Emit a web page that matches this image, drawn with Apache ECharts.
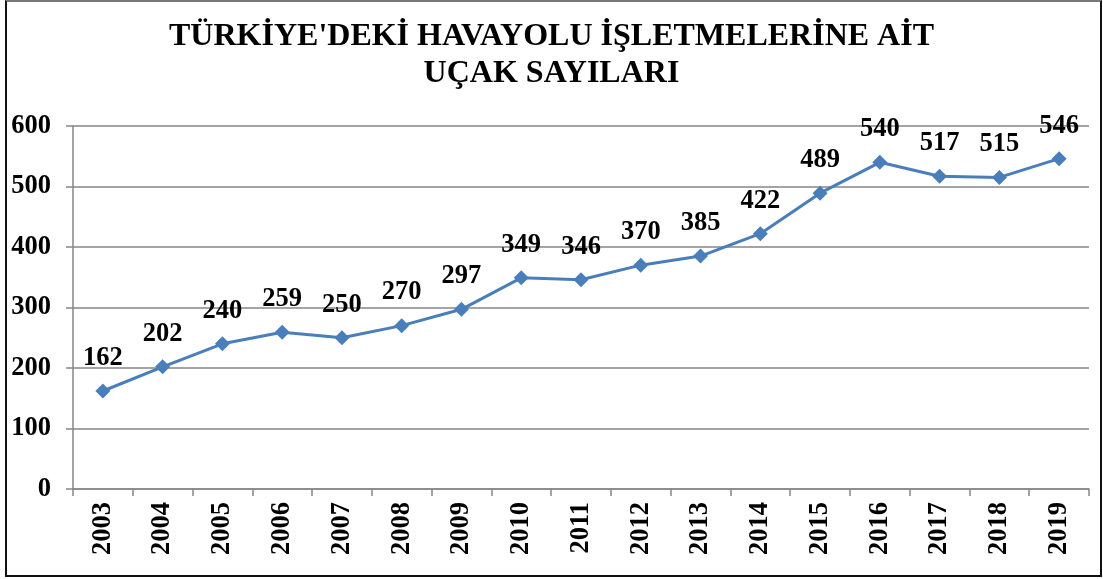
<!DOCTYPE html>
<html>
<head>
<meta charset="utf-8">
<script src="https://cdn.jsdelivr.net/npm/echarts@6/dist/echarts.min.js"></script>
<style>
  html, body { margin: 0; padding: 0; background: #fff; }
  #frame {
    position: absolute; left: 5px; top: 0px; width: 1093px; height: 573px;
    border: 2px solid #111; border-top-color: #777; box-sizing: content-box;
  }
  #main { position: absolute; left: 0; top: 0; width: 1103px; height: 579px; }
</style>
</head>
<body>
<div id="frame"></div>
<div id="main"></div>
<script>
// Yillar ve ucak sayilari
var years = ['2003', '2004', '2005', '2006', '2007', '2008', '2009', '2010', '2011',
             '2012', '2013', '2014', '2015', '2016', '2017', '2018', '2019'];
var aircraft = [162, 202, 240, 259, 250, 270, 297, 349, 346, 370, 385, 422, 489, 540, 517, 515, 546];
var yTicks = [0, 100, 200, 300, 400, 500, 600];

var serif = '"Liberation Serif", "DejaVu Serif", serif';

var myChart = echarts.init(document.getElementById('main'));

var option = {
    animation: false,
    title: {
        text: "TÜRKİYE'DEKİ HAVAYOLU İŞLETMELERİNE AİT\nUÇAK SAYILARI",
        left: 'center',
        top: 13,
        textStyle: {
            fontFamily: serif,
            fontWeight: 'bold',
            fontSize: 32,
            lineHeight: 37,
            color: '#000'
        }
    },
    grid: {
        left: 73,
        right: 14,
        top: 126,
        bottom: 90
    },
    xAxis: {
        type: 'category',
        data: years,
        boundaryGap: true,
        axisLine: { lineStyle: { color: '#868686', width: 1.5 } },
        axisTick: { show: true, length: 7, lineStyle: { color: '#868686', width: 1.5 } },
        axisLabel: {
            rotate: 90,
            margin: 13,
            fontFamily: serif,
            fontWeight: 'bold',
            fontSize: 26.5,
            color: '#000'
        }
    },
    yAxis: {
        type: 'value',
        min: yTicks[0],
        max: yTicks[yTicks.length - 1],
        interval: 100,
        axisLine: { show: true, lineStyle: { color: '#868686', width: 1.5 } },
        axisTick: { show: true, length: 7, lineStyle: { color: '#868686', width: 1.5 } },
        splitLine: { lineStyle: { color: '#868686', width: 1.5 } },
        axisLabel: {
            margin: 22,
            fontFamily: serif,
            fontWeight: 'bold',
            fontSize: 26.5,
            color: '#000'
        }
    },
    series: [
        {
            name: 'Uçak Sayısı',
            type: 'line',
            data: aircraft,
            symbol: 'diamond',
            symbolSize: 15,
            itemStyle: { color: '#4A7EBB' },
            lineStyle: { color: '#4A7EBB', width: 3 },
            label: {
                show: true,
                position: 'top',
                distance: 12,
                fontFamily: serif,
                fontWeight: 'bold',
                fontSize: 26.5,
                color: '#000'
            }
        }
    ]
};

myChart.setOption(option);
</script>
</body>
</html>
